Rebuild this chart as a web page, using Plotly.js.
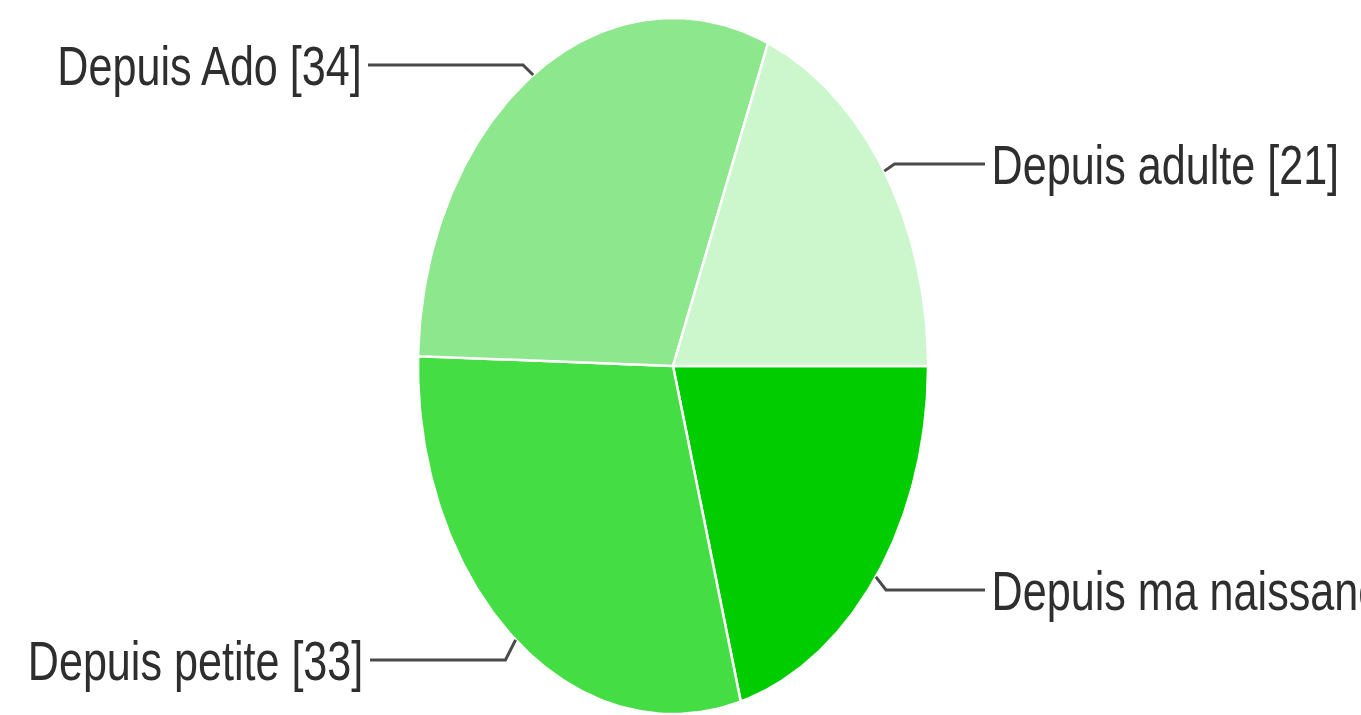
<!DOCTYPE html>
<html>
<head>
<meta charset="utf-8">
<script src="https://cdn.plot.ly/plotly-3.0.1.min.js"></script>
<style>
  html, body { margin: 0; padding: 0; background: #ffffff; overflow: hidden; }
  #chart { width: 1361px; height: 715px; }
</style>
</head>
<body>
<div id="chart"></div>
<script>
// ---- data ----
const categories = ["Depuis ma naissance", "Depuis petite", "Depuis Ado", "Depuis adulte"];
const counts = [23, 33, 34, 21];
const sliceColors = ["#00cc00", "#44dd44", "#8de88d", "#ccf6cc"];

// ---- layout config (pixel geometry of the stretched pie) ----
const W = 1361, H = 715;
const cx = 673, cy = 366, rx = 255, ry = 348;
// label side (+1 right, -1 left) and label line height (px from top)
const labelSide = [1, -1, -1, 1];
const labelY = [590, 660, 65, 164];
const lineEndX = [985, 370, 368, 985];
const textSqueeze = 0.77;   // the reference's labels are tall and narrow
const fontSize = 56;

// axis ranges so the unit circle maps onto the ellipse
const xr = [-cx / rx, (W - cx) / rx];
const yr = [-(H - cy) / ry, cy / ry];
const px2x = p => (p - cx) / rx;
const py2y = p => (cy - p) / ry;

const total = counts.reduce((a, b) => a + b, 0);
const traces = [];
const annotations = [];
const anchorPx = [];
let start = 0; // degrees, east, clockwise
counts.forEach((v, i) => {
  const span = 360 * v / total;
  const a0 = start, a1 = start + span;
  const xs = [0], ys = [0];
  const n = 120;
  for (let k = 0; k <= n; k++) {
    const a = (a0 + (a1 - a0) * k / n) * Math.PI / 180;
    xs.push(Math.cos(a));
    ys.push(-Math.sin(a));
  }
  xs.push(0); ys.push(0);
  traces.push({
    type: "scatter", mode: "lines", x: xs, y: ys, fill: "toself",
    fillcolor: sliceColors[i], line: { color: "#ffffff", width: 2.5 },
    hoverinfo: "skip", showlegend: false
  });
  // leader line
  const mid = (a0 + a1) / 2 * Math.PI / 180;
  const ax = Math.cos(mid), ay = -Math.sin(mid);
  const ly = py2y(labelY[i]);
  const elbowX = ax + labelSide[i] * 0.04;
  traces.push({
    type: "scatter", mode: "lines",
    x: [ax, elbowX, px2x(lineEndX[i])], y: [ay, ly, ly],
    line: { color: "#4a4a4a", width: 3 },
    hoverinfo: "skip", showlegend: false
  });
  const tx = lineEndX[i] + labelSide[i] * 5;
  anchorPx.push(tx);
  annotations.push({
    x: px2x(tx), y: ly, xref: "x", yref: "y",
    text: categories[i] + " [" + v + "]", showarrow: false,
    xanchor: labelSide[i] > 0 ? "left" : "right", yanchor: "middle",
    font: { family: "'Liberation Sans', Arial, sans-serif", size: fontSize, color: "#2e2e2e" }
  });
  start = a1;
});

const layout = {
  width: W, height: H,
  margin: { l: 0, r: 0, t: 0, b: 0 },
  paper_bgcolor: "#ffffff", plot_bgcolor: "#ffffff",
  xaxis: { range: xr, visible: false, fixedrange: true },
  yaxis: { range: yr, visible: false, fixedrange: true },
  annotations: annotations,
  showlegend: false
};
Plotly.newPlot("chart", traces, layout, { displayModeBar: false, staticPlot: true }).then(gd => {
  gd.querySelectorAll("g.annotation").forEach(g => {
    const i = +g.getAttribute("data-index");
    const X = anchorPx[i];
    g.setAttribute("transform", `translate(${X},0) scale(${textSqueeze},1) translate(${-X},0)`);
  });
});
</script>
</body>
</html>
